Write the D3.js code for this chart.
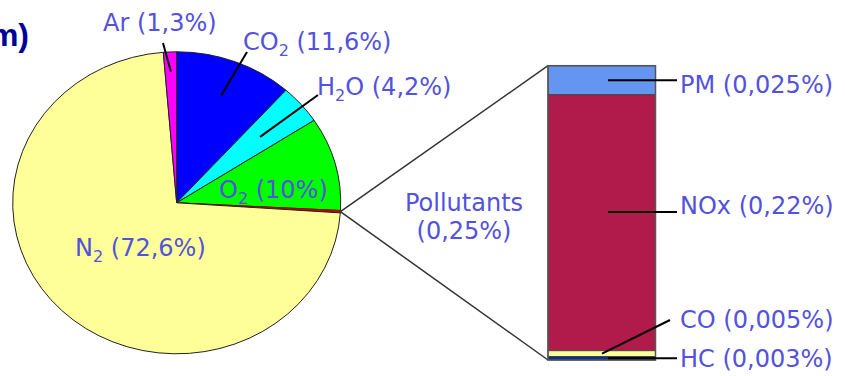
<!DOCTYPE html>
<html>
<head>
<meta charset="utf-8">
<script src="https://cdn.jsdelivr.net/npm/d3@7/dist/d3.min.js"></script>
<style>
  html, body { margin: 0; padding: 0; background: #fff; }
  svg { display: block; }
  text { font-family: "DejaVu Sans", Verdana, sans-serif; }
</style>
</head>
<body>
<svg id="chart" width="845" height="376"></svg>
<script>
// Exhaust gas composition (% by volume), clockwise from 12 o'clock
const gases      = ["CO2", "H2O", "O2", "Pollutants", "N2", "Ar"];
const gasShares  = [11.6, 4.2, 10, 0.25, 72.6, 1.3];
const gasLabels  = [["CO", "2", " (11,6%)"], ["H", "2", "O (4,2%)"], ["O", "2", " (10%)"], null, ["N", "2", " (72,6%)"], ["Ar (1,3%)"]];
const gasColors  = ["#0000ff", "#00ffff", "#00ff00", "#cc0000", "#ffff99", "#ff00ff"];

// Breakdown of the pollutant share, top to bottom of the column
const pollutants      = ["PM", "NOx", "CO", "HC"];
const pollutantShares = [0.025, 0.22, 0.005, 0.003];
const pollutantLabels = ["PM (0,025%)", "NOx (0,22%)", "CO (0,005%)", "HC (0,003%)"];
const pollutantColors = ["#6495f0", "#b01b4c", "#ffff99", "#003399"];

const svg = d3.select("#chart");
const textColor = "#5252dc";
const fontSize = 24;

// ---- Pie (drawn slightly flattened) ----
const cx = 176.7, cy = 202.8, R = 164, ky = 151 / 164;
const pie = d3.pie().sort(null).value(d => d)(gasShares);
const arc = d3.arc().innerRadius(0).outerRadius(R);

const pieG = svg.append("g")
  .attr("transform", `translate(${cx},${cy}) scale(1,${ky})`);
pieG.selectAll("path")
  .data(pie)
  .join("path")
  .attr("d", arc)
  .attr("fill", (d, i) => gasColors[i])
  .attr("stroke", (d, i) => gases[i] === "Pollutants" ? "#aa0000" : "#222")
  .attr("stroke-width", 1)
  .attr("vector-effect", "non-scaling-stroke");

// point on the flattened pie at angle a (radians, clockwise from top), radius fraction f
const piePoint = (a, f) => [cx + f * R * Math.sin(a), cy - f * R * Math.cos(a) * ky];
const mid = d => (d.startAngle + d.endAngle) / 2;

// label placement for each slice: text start, baseline, optional leader
const gasLayout = {
  CO2: { x: 243, y: 50, leader: { f: 0.76, to: [247, 52] } },
  H2O: { x: 317, y: 95, leader: { f: 0.67, to: [318, 95] } },
  O2:  { x: 219, y: 198 },
  N2:  { x: 75,  y: 256 },
  Ar:  { x: 103, y: 31, leader: { f: 0.87, to: [163, 43] } }
};

gases.forEach((g, i) => {
  const lay = gasLayout[g];
  if (!lay || !lay.leader) return;
  const p = piePoint(mid(pie[i]), lay.leader.f);
  svg.append("line")
    .attr("x1", p[0]).attr("y1", p[1])
    .attr("x2", lay.leader.to[0]).attr("y2", lay.leader.to[1])
    .attr("stroke", "#000").attr("stroke-width", 2);
});

gases.forEach((g, i) => {
  const lay = gasLayout[g];
  if (!lay) return;
  const parts = gasLabels[i];
  const t = svg.append("text")
    .attr("x", lay.x).attr("y", lay.y)
    .attr("fill", textColor)
    .attr("font-size", fontSize);
  if (parts.length === 1) {
    t.text(parts[0]);
  } else {
    t.append("tspan").text(parts[0]);
    t.append("tspan").attr("font-size", 16).attr("dy", 6).text(parts[1]);
    t.append("tspan").attr("dy", -6).text(parts[2]);
  }
});

// ---- Pollutant column ----
const barX = 548, barW = 107.5, barTop = 65.7, barBottom = 360;
const total = d3.sum(pollutantShares);
const y = d3.scaleLinear().domain([0, total]).range([barBottom, barTop]);

// stack from the bottom (HC) upwards
const stacked = [];
let acc = 0;
for (let i = pollutants.length - 1; i >= 0; i--) {
  stacked[i] = { y0: acc, y1: acc + pollutantShares[i] };
  acc += pollutantShares[i];
}

// connector lines from the pollutant slice to the column
const polIdx = gases.indexOf("Pollutants");
const edge = piePoint(mid(pie[polIdx]), 1);
svg.append("line")
  .attr("x1", edge[0]).attr("y1", edge[1])
  .attr("x2", barX).attr("y2", y(total))
  .attr("stroke", "#333").attr("stroke-width", 1.5);
svg.append("line")
  .attr("x1", edge[0]).attr("y1", edge[1])
  .attr("x2", barX).attr("y2", y(0))
  .attr("stroke", "#333").attr("stroke-width", 1.5);

svg.append("g").selectAll("rect")
  .data(stacked)
  .join("rect")
  .attr("x", barX)
  .attr("width", barW)
  .attr("y", d => y(d.y1))
  .attr("height", d => y(d.y0) - y(d.y1))
  .attr("fill", (d, i) => pollutantColors[i])
  .attr("stroke", "#444")
  .attr("stroke-width", 1);

svg.append("rect")
  .attr("x", barX).attr("y", barTop)
  .attr("width", barW).attr("height", barBottom - barTop)
  .attr("fill", "none").attr("stroke", "#555").attr("stroke-width", 1.5);

// leaders and labels for the column
const polLayout = {
  PM:  { from: [608, null], to: [677, null], x: 680, y: 93 },
  NOx: { from: [608, 212],  to: [677, 212],  x: 680, y: 214 },
  CO:  { from: [602, null], to: [670, 320],  x: 680, y: 328 },
  HC:  { from: [608, null], to: [677, null], x: 680, y: 367 }
};

pollutants.forEach((p, i) => {
  const lay = polLayout[p];
  const midY = (y(stacked[i].y0) + y(stacked[i].y1)) / 2;
  const y1 = lay.from[1] != null ? lay.from[1] : midY;
  const y2 = lay.to[1] != null ? lay.to[1] : y1;
  svg.append("line")
    .attr("x1", lay.from[0]).attr("y1", y1)
    .attr("x2", lay.to[0]).attr("y2", y2)
    .attr("stroke", "#000").attr("stroke-width", 2);
  svg.append("text")
    .attr("x", lay.x).attr("y", lay.y)
    .attr("fill", textColor)
    .attr("font-size", fontSize)
    .text(pollutantLabels[i]);
});

// label for the pollutant share between pie and column
const polText = svg.append("text")
  .attr("x", 464).attr("y", 211)
  .attr("text-anchor", "middle")
  .attr("fill", textColor)
  .attr("font-size", fontSize);
polText.append("tspan").attr("x", 464).text("Pollutants");
polText.append("tspan").attr("x", 464).attr("dy", 28).text(`(${String(gasShares[polIdx]).replace(".", ",")}%)`);

// tail of the heading, running off the left edge
svg.append("text")
  .attr("x", 29).attr("y", 46)
  .attr("text-anchor", "end")
  .attr("fill", "#000099")
  .attr("font-weight", "bold")
  .attr("font-size", 32)
  .style("font-family", "'Liberation Sans', Arial, sans-serif")
  .text("m)");
</script>
</body>
</html>
